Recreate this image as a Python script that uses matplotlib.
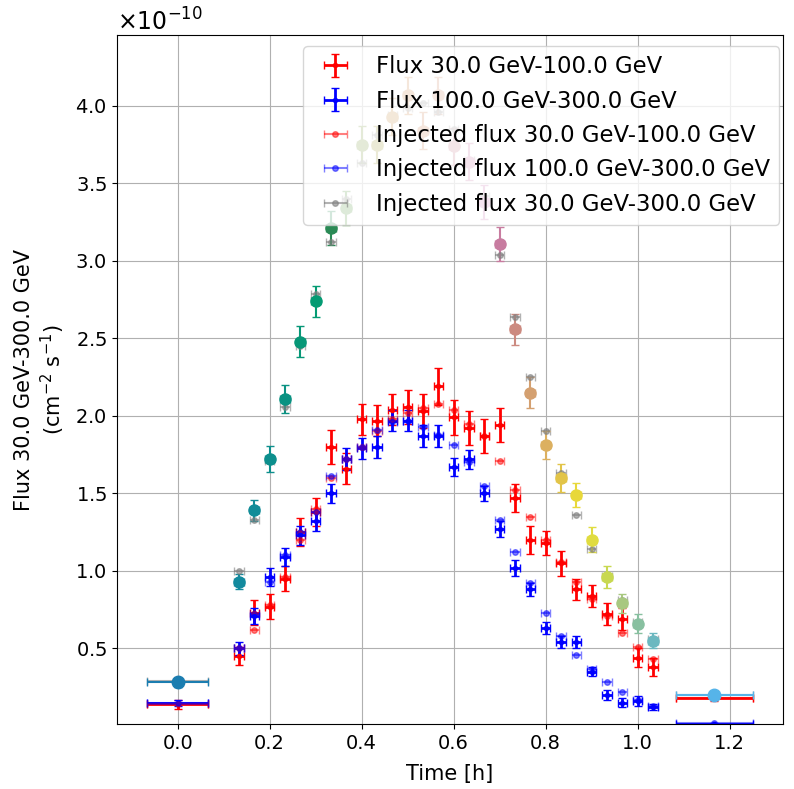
import matplotlib
matplotlib.use('Agg')
import matplotlib.pyplot as plt
from matplotlib.ticker import ScalarFormatter
import numpy as np

# time bins [h]
time = [0.0, 0.1333, 0.1667, 0.2, 0.2333, 0.2667, 0.3, 0.3333, 0.3667, 0.4,
        0.4333, 0.4667, 0.5, 0.5333, 0.5667, 0.6, 0.6333, 0.6667, 0.7, 0.7333,
        0.7667, 0.8, 0.8333, 0.8667, 0.9, 0.9333, 0.9667, 1.0, 1.0333, 1.1667]
time_err = [0.0667] + [0.0104] * 28 + [0.0833]

# fluxes in units of 1e-10 cm-2 s-1
flux_lo = [0.14, 0.45, 0.73, 0.77, 0.95, 1.25, 1.38, 1.80, 1.66, 1.98,
           1.97, 2.04, 2.06, 2.03, 2.19, 1.99, 1.92, 1.87, 1.94, 1.47,
           1.20, 1.18, 1.05, 0.88, 0.84, 0.72, 0.69, 0.44, 0.38, 0.18]
flux_lo_err = [0.03, 0.06, 0.08, 0.08, 0.08, 0.09, 0.09, 0.11, 0.10, 0.10,
               0.10, 0.10, 0.11, 0.11, 0.12, 0.11, 0.11, 0.11, 0.11, 0.09,
               0.09, 0.08, 0.08, 0.07, 0.07, 0.07, 0.07, 0.06, 0.06, 0.02]
flux_hi = [0.15, 0.50, 0.71, 0.96, 1.09, 1.23, 1.32, 1.50, 1.72, 1.79,
           1.80, 1.97, 1.97, 1.87, 1.87, 1.67, 1.72, 1.50, 1.27, 1.02,
           0.88, 0.63, 0.54, 0.54, 0.35, 0.20, 0.15, 0.16, 0.12, 0.01]
flux_hi_err = [0.02, 0.04, 0.05, 0.06, 0.06, 0.06, 0.06, 0.06, 0.07, 0.07,
               0.07, 0.07, 0.07, 0.07, 0.07, 0.06, 0.06, 0.05, 0.05, 0.05,
               0.04, 0.04, 0.04, 0.04, 0.03, 0.03, 0.03, 0.03, 0.02, 0.01]
flux_all = [0.28, 0.93, 1.39, 1.72, 2.11, 2.48, 2.74, 3.21, 3.34, 3.75,
            3.75, 3.93, 4.07, 3.84, 4.07, 3.74, 3.64, 3.38, 3.11, 2.56,
            2.15, 1.81, 1.60, 1.49, 1.20, 0.96, 0.79, 0.66, 0.55, 0.20]
flux_all_err = [0.03, 0.05, 0.07, 0.085, 0.09, 0.10, 0.10, 0.11, 0.11, 0.12,
                0.12, 0.12, 0.12, 0.12, 0.12, 0.12, 0.12, 0.11, 0.11, 0.10,
                0.10, 0.09, 0.09, 0.08, 0.08, 0.07, 0.06, 0.06, 0.05, 0.02]

inj_lo = [0.14, 0.50, 0.62, 0.78, 0.96, 1.20, 1.40, 1.60, 1.72, 1.80,
          1.90, 1.98, 2.02, 2.05, 2.08, 2.04, 1.95, 1.87, 1.71, 1.52,
          1.35, 1.20, 1.06, 0.93, 0.82, 0.71, 0.60, 0.51, 0.43, 0.18]
inj_hi = [0.15, 0.50, 0.72, 0.93, 1.10, 1.25, 1.38, 1.61, 1.72, 1.80,
          1.91, 1.96, 1.97, 1.93, 1.88, 1.81, 1.70, 1.55, 1.33, 1.12,
          0.92, 0.73, 0.58, 0.46, 0.37, 0.28, 0.22, 0.17, 0.13, 0.02]
inj_all = [0.29, 1.00, 1.33, 1.71, 2.06, 2.45, 2.79, 3.12, 3.40, 3.63,
           3.81, 3.94, 3.99, 4.02, 3.96, 3.85, 3.65, 3.42, 3.04, 2.64,
           2.25, 1.90, 1.63, 1.36, 1.14, 0.97, 0.81, 0.67, 0.56, 0.20]

point_colors = ['#1b7db0', '#138a9e', '#118c98', '#0d8f8d', '#0a9282', '#079777',
                '#049b73', '#2a8a55', '#5a9a48', '#7a9a40', '#a09a38', '#c89048',
                '#d08a50', '#d08858', '#d08a68', '#cc8090', '#cc7aa8', '#cc78b4',
                '#c87ca0', '#cc8a80', '#d4a070', '#dcb060', '#e2c448', '#e8d83a',
                '#e0dc40', '#c8d850', '#a8c880', '#88c0a0', '#6cb8c0', '#56b4e9']

scale = 1e-10
t = np.array(time)
terr = np.array(time_err)

fig = plt.figure(figsize=(7.94, 7.89), dpi=100)
ax = fig.add_axes([0.147, 0.082, 0.839, 0.874])

ax.errorbar(t, np.array(flux_lo) * scale, xerr=terr, yerr=np.array(flux_lo_err) * scale,
            fmt='o', ms=3, color='red', lw=2, capsize=3, label='Flux 30.0 GeV-100.0 GeV')
ax.errorbar(t, np.array(flux_hi) * scale, xerr=terr, yerr=np.array(flux_hi_err) * scale,
            fmt='o', ms=3, color='blue', lw=2, capsize=3, label='Flux 100.0 GeV-300.0 GeV')
ax.errorbar(t, np.array(inj_lo) * scale, xerr=terr, fmt='o', ms=4, color='red', alpha=0.5,
            lw=1.5, capsize=3, label='Injected flux 30.0 GeV-100.0 GeV')
ax.errorbar(t, np.array(inj_hi) * scale, xerr=terr, fmt='o', ms=4, color='blue', alpha=0.5,
            lw=1.5, capsize=3, label='Injected flux 100.0 GeV-300.0 GeV')
ax.errorbar(t, np.array(inj_all) * scale, xerr=terr, fmt='o', ms=4, color='gray', alpha=0.6,
            lw=1.5, capsize=3, label='Injected flux 30.0 GeV-300.0 GeV')

# total flux, one colour per time bin
for i in range(len(t)):
    ms = 9 if terr[i] > 0.05 else 8
    ax.errorbar(t[i], flux_all[i] * scale, xerr=terr[i], yerr=flux_all_err[i] * scale,
                fmt='o', ms=ms, color=point_colors[i], lw=1.5, capsize=3)

ax.set_ylim(0.01e-10, 4.46e-10)
fmtr = ScalarFormatter(useMathText=True)
ax.yaxis.set_major_formatter(fmtr)
ax.set_xlabel('Time [h]', fontsize=15, labelpad=8)
ax.set_ylabel('Flux 30.0 GeV-300.0 GeV\n(cm$^{-2}$ s$^{-1}$)', fontsize=15, labelpad=6)
ax.tick_params(labelsize=14)
ax.yaxis.get_offset_text().set_fontsize(17)
ax.grid(True)
ax.legend(loc='upper right', fontsize=16.4, bbox_to_anchor=(1.012, 1.0))

fig.savefig('out.png', dpi=100)
